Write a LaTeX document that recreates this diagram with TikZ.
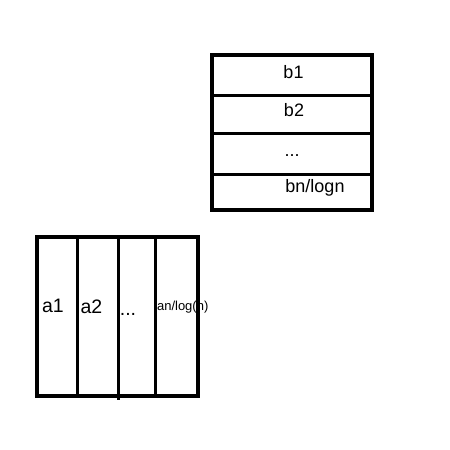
\documentclass[tikz,border=0pt]{standalone}
\usepackage{fontspec}
\setmainfont{Liberation Sans}
\begin{document}
\begin{tikzpicture}[x=1pt,y=-1pt,
  outer/.style={line width=4pt},
  inner/.style={line width=3pt},
  blabel/.style={font=\fontsize{18}{20}\selectfont, inner sep=0pt},
  alabel/.style={font=\fontsize{19.5}{22}\selectfont, inner sep=0pt},
  smalllabel/.style={font=\fontsize{13}{15}\selectfont, inner sep=0pt}]
\useasboundingbox (0,0) rectangle (450,450);
% top box
\draw[inner] (212,95) -- (372,95);
\draw[inner] (212,133.7) -- (372,133.7);
\draw[inner] (212,174) -- (372,174);
\draw[outer] (212,55) rectangle (372,210);
\node[blabel] (b1) at (293.5,72) {b1};
\node[blabel] (b2) at (294,110) {b2};
\node[blabel] (bd) at (292,156) {...};
\node[blabel] (bn) at (315,188) {bn/logn};
% bottom box
\draw[inner] (77.7,237) -- (77.7,396);
\draw[inner] (118.7,237) -- (118.7,400);
\draw[inner] (155.3,237) -- (155.3,396);
\draw[outer] (36.7,237) rectangle (197.5,396);
\node[alabel] (a1) at (53,306) {a1};
\node[alabel] (a2) at (91.5,307) {a2};
\node[alabel] (ad) at (128,314) {...};
\node[smalllabel] (an) at (182.7,307) {an/log(n)};
\end{tikzpicture}
\end{document}
